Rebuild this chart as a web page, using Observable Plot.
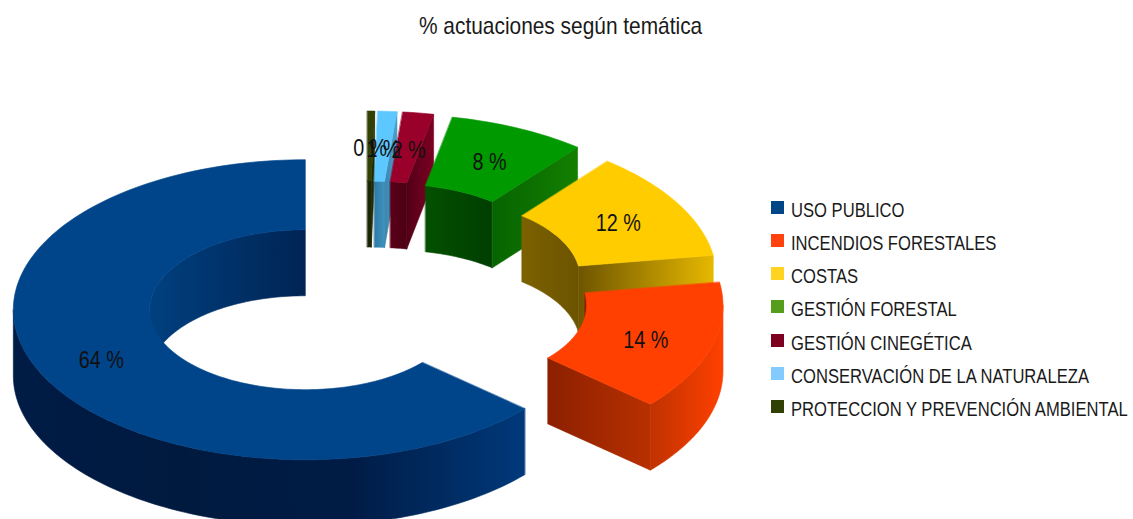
<!DOCTYPE html>
<html lang="es">
<head>
<meta charset="utf-8">
<script src="https://cdn.jsdelivr.net/npm/d3@7"></script>
<script src="https://cdn.jsdelivr.net/npm/@observablehq/plot@0.6"></script>
<style>
  html, body { margin: 0; padding: 0; background: #fff; }
  #page { position: relative; width: 1133px; height: 519px; overflow: hidden; font-family: "Liberation Sans", sans-serif; color: #1a1a1a; }
  #title { position: absolute; left: 419px; top: 11px; font-size: 24px; line-height: 30px; white-space: nowrap; transform: scaleX(.87); transform-origin: left center; }
  #legend { position: absolute; left: 771px; top: 194px; }
  .row { position: absolute; left: 0; width: 360px; height: 28px; }
  .sw { position: absolute; left: 0; top: 7px; width: 13px; height: 13px; }
  .lb { position: absolute; left: 20px; top: 2px; white-space: nowrap; font-size: 20px; line-height: 28px; transform: scaleX(.83); transform-origin: left center; }
  svg { position: absolute; left: 0; top: 0; }
</style>
</head>
<body>
<div id="page"></div>
<script>
const titleText = "% actuaciones según temática";
const categories = ["USO PUBLICO", "INCENDIOS FORESTALES", "COSTAS", "GESTIÓN FORESTAL", "GESTIÓN CINEGÉTICA", "CONSERVACIÓN DE LA NATURALEZA", "PROTECCION Y PREVENCIÓN AMBIENTAL"];
const values = [63.5, 13.9, 11.8, 7.6, 1.7, 1.05, 0.4];
const labels = ["64 %", "14 %", "12 %", "8 %", "2 %", "1 %", "0 %"];
const legendColors = ["#004586", "#ff420e", "#ffd320", "#579d1c", "#7e0021", "#83caff", "#314004"];
const topColors = ["#00448a", "#ff4000", "#ffcc00", "#009900", "#99002a", "#5cc8ff", "#314004"];
// left-to-right shades of each slice's cut face, inner wall and outer wall
const cutShades = [null, ["#8c2000", "#b83000"], ["#6e5500", "#e6b800"], ["#066400", "#137f00"], ["#520016", "#7c0022"], ["#3a86b0", "#4c9fca"], ["#1c2602", "#222d03"]];
const innerShades = [["#00407f", "#002454"], ["#8c2000", "#8c2000"], ["#7c6100", "#6c5400"], ["#045000", "#003e00"], ["#5a0018", "#4c0014"], ["#2f7aa5", "#3f93bf"], ["#1c2602", "#1c2602"]];
const outerShades = [["#001b45", "#001a3f", "#001c46", "#00397a"], ["#c03200", "#ff4000"]];

// Ring geometry in unit-circle coordinates (the y scale flattens it to an ellipse)
const HOLE = 0.533, EXPLODE = 0.23, DEPTH = 0.44, MID = (1 + HOLE) / 2;
const rad = Math.PI / 180, TAU = 360;
const pt = (c, r, a, drop = 0) => [c[0] + r * Math.sin(a * rad), c[1] - r * Math.cos(a * rad) + drop];
const arc = (c, r, a0, a1, drop = 0) => {
  const n = Math.max(2, Math.ceil(Math.abs(a1 - a0) / 1.5));
  return d3.range(n + 1).map(i => pt(c, r, a0 + (a1 - a0) * i / n, drop));
};

// Slices run counter-clockwise from 12 o'clock in the data order.
const total = d3.sum(values);
let cursor = TAU;
const slices = values.map((v, i) => {
  const a1 = cursor, a0 = cursor - v / total * TAU;
  cursor = a0;
  const mid = (a0 + a1) / 2;
  return {i, a0, a1, mid, c: [EXPLODE * Math.sin(mid * rad), -EXPLODE * Math.cos(mid * rad)]};
});

const defs = [];
const gradient = (id, stops) => { defs.push({id, stops}); return `url(#${id})`; };
const marks = [];
const face = (pts, fill) => marks.push(Plot.line(pts, {x: d => d[0], y: d => d[1], fill, stroke: fill, strokeWidth: 0.6, curve: "linear-closed"}));

// Paint from the back of the scene to the front.
const order = slices.slice().reverse();
for (const s of order) {
  const {c, a0, a1, i} = s;
  // inner wall: visible on the far side of the hole
  const spans = [];
  for (const [lo, hi] of [[a0, Math.min(a1, 90)], [Math.max(a0, 270), a1]]) if (hi > lo) spans.push([lo, hi]);
  spans.forEach(([lo, hi], k) => {
    face([...arc(c, HOLE, lo, hi), ...arc(c, HOLE, hi, lo, DEPTH)], gradient(`inner${i}${k}`, innerShades[i]));
  });
  // the cut at the far end of each small slice faces the viewer
  if (i > 0) {
    face([pt(c, HOLE, a1), pt(c, 1, a1), pt(c, 1, a1, DEPTH), pt(c, HOLE, a1, DEPTH)], gradient(`cut${i}`, cutShades[i]));
  }
  // outer wall: visible on the near side
  const lo = Math.max(a0, 90), hi = Math.min(a1, 270);
  if (hi > lo) {
    face([...arc(c, 1, lo, hi), ...arc(c, 1, hi, lo, DEPTH)], gradient(`outer${i}`, outerShades[i === 0 ? 0 : 1]));
  }
  // top face
  face([...arc(c, 1, a0, a1), ...arc(c, HOLE, a1, a0)], topColors[i]);
}

const defsMark = () => {
  const d = d3.create("svg:defs");
  for (const g of defs) {
    const lg = d.append("linearGradient").attr("id", g.id).attr("x1", 0).attr("x2", 1).attr("y1", 0).attr("y2", 0);
    g.stops.forEach((color, k) => lg.append("stop").attr("offset", k / (g.stops.length - 1)).attr("stop-color", color));
  }
  return d.node();
};

const labelRows = slices.map(s => ({
  text: labels[s.i],
  x: s.c[0] + MID * Math.sin(s.mid * rad),
  y: s.c[1] - MID * Math.cos(s.mid * rad)
}));

const chart = Plot.plot({
  width: 1133, height: 519,
  margin: 0,
  x: {domain: [-366 / 292, (1133 - 366) / 292], range: [0, 1133], axis: null},
  y: {domain: [-295 / 150, (519 - 295) / 150], range: [0, 519], axis: null},
  style: {background: "transparent"},
  marks: [
    defsMark,
    ...marks,
    Plot.text(labelRows, {x: "x", y: "y", text: "text", dy: 3, fontSize: 23, fill: "#111",
      className: "slice-label", fontFamily: '"Liberation Sans", sans-serif'})
  ]
});

const page = document.getElementById("page");
page.appendChild(chart);

// the reference's typeface is condensed: squeeze the labels to the same width
d3.select(chart).selectAll(".slice-label text").each(function () {
  this.setAttribute("textLength", this.getComputedTextLength() * 0.86);
  this.setAttribute("lengthAdjust", "spacingAndGlyphs");
});

const title = document.createElement("div");
title.id = "title";
title.textContent = titleText;
page.appendChild(title);

const legend = document.createElement("div");
legend.id = "legend";
categories.forEach((name, i) => {
  const row = document.createElement("div");
  row.className = "row";
  row.style.top = `${i * 33.15}px`;
  const sw = document.createElement("div");
  sw.className = "sw";
  sw.style.background = legendColors[i];
  const lb = document.createElement("div");
  lb.className = "lb";
  lb.textContent = name;
  row.append(sw, lb);
  legend.appendChild(row);
});
page.appendChild(legend);
</script>
</body>
</html>
